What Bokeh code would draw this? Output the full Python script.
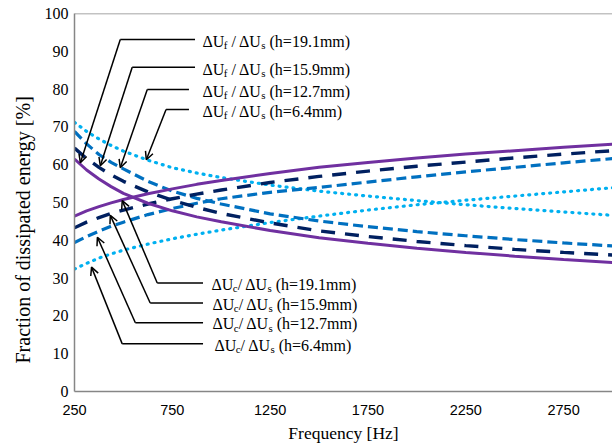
from bokeh.plotting import figure
from bokeh.models import (Range1d, FixedTicker, Span, Arrow, OpenHead, ColumnDataSource, Title)
from bokeh.core.properties import value
from bokeh.embed import file_html
from bokeh.resources import INLINE

# ---------------- data ----------------
freq = [250, 312, 375, 437, 500, 625, 750, 875, 1000, 1250, 1500, 1750, 2000, 2250, 2500, 2750, 3000]

uf_191 = [61.5, 58.6, 56.2, 54.2, 52.4, 49.8, 47.8, 46.2, 44.9, 42.6, 40.7, 39.2, 37.9, 36.8, 35.8, 34.9, 34.1]
uc_191 = [46.4, 47.8, 48.9, 49.9, 50.8, 52.3, 53.6, 54.8, 55.8, 57.7, 59.3, 60.6, 61.8, 62.8, 63.7, 64.6, 65.4]
uf_159 = [64.4, 61.6, 59.3, 57.3, 55.6, 52.8, 50.6, 48.7, 47.1, 44.6, 42.5, 41.0, 39.7, 38.6, 37.6, 36.8, 36.1]
uc_159 = [43.3, 44.8, 46.0, 47.1, 48.0, 49.6, 51.0, 52.2, 53.3, 55.3, 56.9, 58.3, 59.6, 60.7, 61.8, 62.8, 63.7]
uf_127 = [68.8, 65.5, 62.7, 60.6, 58.9, 55.6, 53.0, 51.1, 49.6, 47.0, 45.1, 43.6, 42.3, 41.2, 40.2, 39.3, 38.5]
uc_127 = [39.4, 41.0, 42.4, 43.7, 44.8, 46.8, 48.4, 49.8, 51.0, 52.7, 54.0, 55.4, 56.8, 58.1, 59.3, 60.5, 61.6]
uf_64 = [71.2, 68.8, 66.8, 65.1, 63.6, 61.2, 59.2, 57.8, 56.6, 54.6, 53.0, 51.7, 50.5, 49.4, 48.4, 47.5, 46.6]
uc_64 = [32.4, 33.9, 35.3, 36.4, 37.4, 39.0, 40.4, 41.6, 42.7, 44.7, 46.4, 48.0, 49.4, 50.6, 51.7, 52.8, 53.9]

x_ticks = [250, 750, 1250, 1750, 2250, 2750]
y_ticks = [0, 10, 20, 30, 40, 50, 60, 70, 80, 90, 100]

heights = ["19.1", "15.9", "12.7", "6.4"]

# annotation geometry (data coordinates)
top_tip_x = [280, 382, 484, 617]
top_tip_y = [60.5, 59.7, 59.2, 61.3]
top_elb_x = [484, 545, 622, 718]
top_elb_y = [93.1, 85.8, 79.9, 74.6]
top_end_x = [866, 866, 835, 835]
top_txt_x = [904, 904, 904, 904]

bot_tip_x = [494, 433, 367, 337]
bot_tip_y = [50.5, 46.6, 40.8, 32.9]
bot_elb_x = [673, 637, 561, 494]
bot_elb_y = [28.7, 23.4, 18.2, 12.6]
bot_end_x = [907, 907, 907, 907]
bot_txt_x = [950, 955, 955, 965]

PURPLE = "#7030A0"
NAVY = "#002060"
BLUE = "#0070C0"
LIGHT = "#00B0F0"

p = figure(width=612, height=445, x_range=Range1d(250, 3000), y_range=Range1d(0, 100),
           output_backend="svg", toolbar_location=None,
           min_border_left=74, min_border_right=0, min_border_top=13, min_border_bottom=52)
p.outline_line_color = None
p.grid.visible = False
p.background_fill_color = "white"
p.border_fill_color = "white"

for ax in (p.xaxis[0], p.yaxis[0]):
    ax.axis_line_color = "#868686"
    ax.axis_line_width = 1.5
    ax.major_tick_line_color = None
    ax.minor_tick_line_color = None
    ax.major_tick_in = 0
    ax.major_tick_out = 0
    ax.major_label_text_color = "black"
    ax.axis_label_text_color = "black"
    ax.axis_label_text_font_style = "normal"
    ax.axis_label_text_font = "Liberation Serif"

p.xaxis.ticker = FixedTicker(ticks=x_ticks)
p.yaxis.ticker = FixedTicker(ticks=y_ticks)
p.xaxis.major_label_text_font = "Liberation Sans"
p.xaxis.major_label_text_font_size = "14.5px"
p.xaxis.major_label_standoff = 13
p.yaxis.major_label_text_font = "Liberation Serif"
p.yaxis.major_label_text_font_size = "16px"
p.yaxis.major_label_standoff = 6
p.xaxis.axis_label = "Frequency [Hz]"
p.xaxis.axis_label_text_font_size = "17.5px"
p.xaxis.axis_label_standoff = 5

# y-axis title placed as a side title so it can sit lower than the frame centre
ytitle = Title(text="Fraction of dissipated energy [%]", align="left", offset=28,
               text_font="Liberation Serif", text_font_size="20px", text_font_style="normal",
               text_color="black", standoff=15)
p.add_layout(ytitle, "left")

p.add_layout(Span(location=100, dimension="width", line_color="#868686", line_width=1.5))

# curves
p.line(freq, uc_64, line_color=LIGHT, line_width=3.2, line_dash="1 6", line_cap="round")
p.line(freq, uf_64, line_color=LIGHT, line_width=3.2, line_dash="1 6", line_cap="round")
p.line(freq, uc_127, line_color=BLUE, line_width=3.2, line_dash="10 5")
p.line(freq, uf_127, line_color=BLUE, line_width=3.2, line_dash="10 5")
p.line(freq, uc_159, line_color=NAVY, line_width=3.4, line_dash="14 10")
p.line(freq, uf_159, line_color=NAVY, line_width=3.4, line_dash="14 10")
p.line(freq, uc_191, line_color=PURPLE, line_width=3)
p.line(freq, uf_191, line_color=PURPLE, line_width=3)

# leaders + arrows
for i in range(4):
    p.line([top_end_x[i], top_elb_x[i]], [top_elb_y[i], top_elb_y[i]], line_color="black", line_width=1.5)
    p.add_layout(Arrow(x_start=top_elb_x[i], y_start=top_elb_y[i], x_end=top_tip_x[i], y_end=top_tip_y[i],
                       line_color="black", line_width=1.5,
                       end=OpenHead(size=8, line_width=1.5, line_color="black")))
    p.line([bot_end_x[i], bot_elb_x[i]], [bot_elb_y[i], bot_elb_y[i]], line_color="black", line_width=1.5)
    p.add_layout(Arrow(x_start=bot_elb_x[i], y_start=bot_elb_y[i], x_end=bot_tip_x[i], y_end=bot_tip_y[i],
                       line_color="black", line_width=1.5,
                       end=OpenHead(size=8, line_width=1.5, line_color="black")))

# labels with subscripts (Times metrics)
W = {"Δ": 0.612, "U": 0.722, " ": 0.25, "/": 0.278, "(": 0.333, ")": 0.333, "h": 0.5,
     "=": 0.564, ".": 0.25, "m": 0.778, "f": 0.333, "c": 0.444, "s": 0.389}
def width(t, fs):
    return sum(W.get(ch, 0.5) for ch in t) * fs

FS, SFS = 16, 11
main = dict(x=[], y=[], text=[], xo=[], yo=[])
subs = dict(x=[], y=[], text=[], xo=[], yo=[])

def add_label(x, y, pieces):
    off = 0.0
    for t, is_sub in pieces:
        fs = SFS if is_sub else FS
        stripped = t.lstrip(" ")
        off += width(t[:len(t) - len(stripped)], fs)
        d = subs if is_sub else main
        d["x"].append(x); d["y"].append(y); d["text"].append(stripped)
        d["xo"].append(off); d["yo"].append(4 if is_sub else 0)
        off += width(stripped, fs)

for i, h in enumerate(heights):
    add_label(top_txt_x[i], top_elb_y[i] - 0.5,
              [("ΔU", False), ("f", True), (" / ΔU", False), ("s", True), (" (h=%smm)" % h, False)])
    add_label(bot_txt_x[i], bot_elb_y[i] - 0.3,
              [("ΔU", False), ("c", True), ("/ ΔU", False), ("s", True), (" (h=%smm)" % h, False)])

p.text(x="x", y="y", text="text", x_offset="xo", y_offset="yo", source=ColumnDataSource(main),
       text_font=value("Liberation Serif"), text_font_size="16px", text_color="black",
       text_baseline="middle", text_align="left")
p.text(x="x", y="y", text="text", x_offset="xo", y_offset="yo", source=ColumnDataSource(subs),
       text_font=value("Liberation Serif"), text_font_size="11px", text_color="black",
       text_baseline="middle", text_align="left")

open("out.html", "w").write(file_html(p, INLINE))
